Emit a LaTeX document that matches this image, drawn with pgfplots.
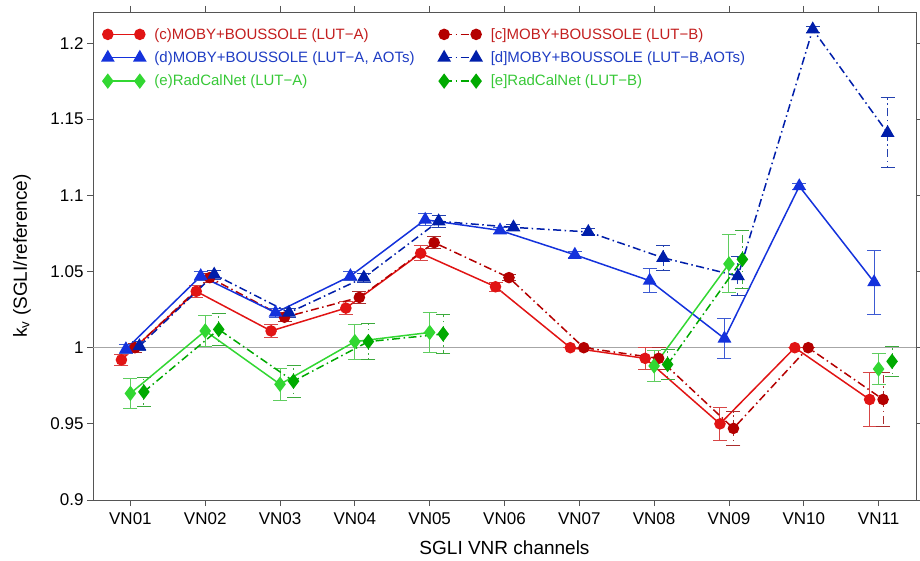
\documentclass[border=0pt]{standalone}
\usepackage{fontspec}
\setmainfont{Liberation Sans}
\usepackage{pgfplots}
\pgfplotsset{compat=1.18}

\definecolor{cA}{RGB}{225,20,20}
\definecolor{cB}{RGB}{180,0,0}
\definecolor{dA}{RGB}{20,50,220}
\definecolor{dB}{RGB}{0,30,170}
\definecolor{eA}{RGB}{50,215,50}
\definecolor{eB}{RGB}{0,170,0}
\definecolor{cAerr}{RGB}{215,70,70}
\definecolor{cBerr}{RGB}{170,45,45}
\definecolor{dAerr}{RGB}{60,90,210}
\definecolor{dBerr}{RGB}{35,65,175}
\definecolor{eAerr}{RGB}{95,205,95}
\definecolor{eBerr}{RGB}{60,170,60}
\definecolor{cTxt}{RGB}{195,30,30}
\definecolor{dTxt}{RGB}{30,60,195}
\definecolor{eTxt}{RGB}{55,200,55}
\definecolor{axgray}{RGB}{85,85,85}

\pgfplotsset{
  dashdot/.style={dash pattern=on 8pt off 3.5pt on 1.5pt off 3.5pt},
  errs/.style={error bars/error bar style={line width=1pt,color=#1},
               error bars/error mark options={line width=1pt,mark size=7pt,color=#1}},
}

\begin{document}
\begin{tikzpicture}
\begin{axis}[
  scale only axis,
  width=823pt, height=488pt,
  xmin=0.5, xmax=11.5,
  ymin=0.9, ymax=1.2204,
  xtick={1,2,3,4,5,6,7,8,9,10,11},
  xticklabels={VN01,VN02,VN03,VN04,VN05,VN06,VN07,VN08,VN09,VN10,VN11},
  ytick={0.9,0.95,1,1.05,1.1,1.15,1.2},
  yticklabels={0.9,0.95,1,1.05,1.1,1.15,1.2},
  tick align=outside,
  major tick length=6pt,
  tick style={axgray,line width=0.8pt},
  axis line style={axgray,line width=0.8pt},
  ticklabel style={font=\fontsize{17}{20}\selectfont},
  xticklabel style={yshift=-3pt},
  xlabel={SGLI VNR channels},
  ylabel={k\textsubscript{v} (SGLI/reference)},
  label style={font=\fontsize{19}{22}\selectfont},
  xlabel style={at={(axis description cs:0.5,0)},yshift=-48pt,anchor=center},
  ylabel style={at={(axis description cs:-0.0863,0.5)},anchor=center},
  error bars/y dir=both,
  error bars/y explicit,
  error bars/error mark=|,
  legend columns=2,
  legend cell align=left,
  legend image code/.code={\draw[#1] plot coordinates {(0pt,0pt) (32pt,0pt)};},
  legend style={at={(axis description cs:0,1)},anchor=north west,
    xshift=6pt,yshift=-12pt,draw=none,fill=none,
    font=\fontsize{15}{18}\selectfont,row sep=7pt,
    /tikz/every odd column/.append style={column sep=7pt},
    /tikz/every even column/.append style={column sep=22pt}},
  every axis plot/.append style={line width=1.5pt},
]
\addplot[gray!70,line width=0.8pt,forget plot] coordinates {(0.5,1) (11.5,1)};

% (c) LUT-A
\addplot[cA,mark=*,mark size=5pt,errs=cAerr] coordinates {
(0.88,0.992) +- (0,0.0035)
(1.88,1.037) +- (0,0.004)
(2.88,1.011) +- (0,0.004)
(3.88,1.026) +- (0,0.004)
(4.88,1.062) +- (0,0.005)
(5.88,1.040) +- (0,0.003)
(6.88,1.000) +- (0,0)
(7.88,0.993) +- (0,0.007)
(8.88,0.950) +- (0,0.011)
(9.88,1.000) +- (0,0)
(10.88,0.966) +- (0,0.018)
};
\addlegendentry{\textcolor{cTxt}{(c)MOBY+BOUSSOLE (LUT−A)}}

% [c] LUT-B
\addplot[cB,dashdot,mark=*,mark size=5pt,mark options={solid},errs=cBerr] coordinates {
(1.06,1.000) +- (0,0.003)
(2.06,1.046) +- (0,0.003)
(3.06,1.020) +- (0,0.003)
(4.06,1.033) +- (0,0.004)
(5.06,1.069) +- (0,0.004)
(6.06,1.046) +- (0,0.002)
(7.06,1.000) +- (0,0)
(8.06,0.993) +- (0,0.007)
(9.06,0.947) +- (0,0.011)
(10.06,1.000) +- (0,0)
(11.06,0.966) +- (0,0.018)
};
\addlegendentry{\textcolor{cTxt}{[c]MOBY+BOUSSOLE (LUT−B)}}

% (d) LUT-A, AOTs
\addplot[dA,mark=triangle*,mark size=6.5pt,errs=dAerr] coordinates {
(0.94,0.999) +- (0,0.003)
(1.94,1.047) +- (0,0.003)
(2.94,1.023) +- (0,0.003)
(3.94,1.047) +- (0,0.003)
(4.94,1.084) +- (0,0.004)
(5.94,1.077) +- (0,0.002)
(6.94,1.061) +- (0,0.002)
(7.94,1.044) +- (0,0.008)
(8.94,1.006) +- (0,0.013)
(9.94,1.106) +- (0,0.002)
(10.94,1.043) +- (0,0.021)
};
\addlegendentry{\textcolor{dTxt}{(d)MOBY+BOUSSOLE (LUT−A, AOTs)}}

% [d] LUT-B, AOTs
\addplot[dB,dashdot,mark=triangle*,mark size=6.5pt,mark options={solid},errs=dBerr] coordinates {
(1.12,1.001) +- (0,0.003)
(2.12,1.048) +- (0,0.003)
(3.12,1.023) +- (0,0.003)
(4.12,1.046) +- (0,0.003)
(5.12,1.083) +- (0,0.004)
(6.12,1.079) +- (0,0.002)
(7.12,1.076) +- (0,0.002)
(8.12,1.059) +- (0,0.008)
(9.12,1.047) +- (0,0.013)
(10.12,1.209) +- (0,0.002)
(11.12,1.141) +- (0,0.023)
};
\addlegendentry{\textcolor{dTxt}{[d]MOBY+BOUSSOLE (LUT−B,AOTs)}}

% (e) RadCalNet LUT-A
\addplot[eA,mark=diamond*,mark size=6.5pt,errs=eAerr] coordinates {
(1,0.970) +- (0,0.0097)
(2,1.011) +- (0,0.010)
(3,0.976) +- (0,0.0105)
(4,1.004) +- (0,0.0115)
(5,1.010) +- (0,0.013)
};
\addlegendentry{\textcolor{eTxt}{(e)RadCalNet (LUT−A)}}

% [e] RadCalNet LUT-B
\addplot[eB,dashdot,mark=diamond*,mark size=6.5pt,mark options={solid},errs=eBerr] coordinates {
(1.18,0.971) +- (0,0.0095)
(2.18,1.012) +- (0,0.0104)
(3.18,0.978) +- (0,0.0104)
(4.18,1.004) +- (0,0.0116)
(5.18,1.009) +- (0,0.013)
};
\addlegendentry{\textcolor{eTxt}{[e]RadCalNet (LUT−B)}}

\addplot[eA,mark=diamond*,mark size=6.5pt,errs=eAerr,forget plot] coordinates {
(8,0.988) +- (0,0.010)
(9,1.055) +- (0,0.019)
};
\addplot[eA,mark=diamond*,mark size=6.5pt,errs=eAerr,forget plot] coordinates {
(11,0.986) +- (0,0.010)
};
\addplot[eB,dashdot,mark=diamond*,mark size=6.5pt,mark options={solid},errs=eBerr,forget plot] coordinates {
(8.18,0.989) +- (0,0.0101)
(9.18,1.058) +- (0,0.019)
};
\addplot[eB,dashdot,mark=diamond*,mark size=6.5pt,mark options={solid},errs=eBerr,forget plot] coordinates {
(11.18,0.991) +- (0,0.010)
};
\end{axis}
\pgfresetboundingbox
\path[use as bounding box] ([shift={(-93pt,-60pt)}]current axis.south west) rectangle ([shift={(827pt,500pt)}]current axis.south west);
\end{tikzpicture}
\end{document}
